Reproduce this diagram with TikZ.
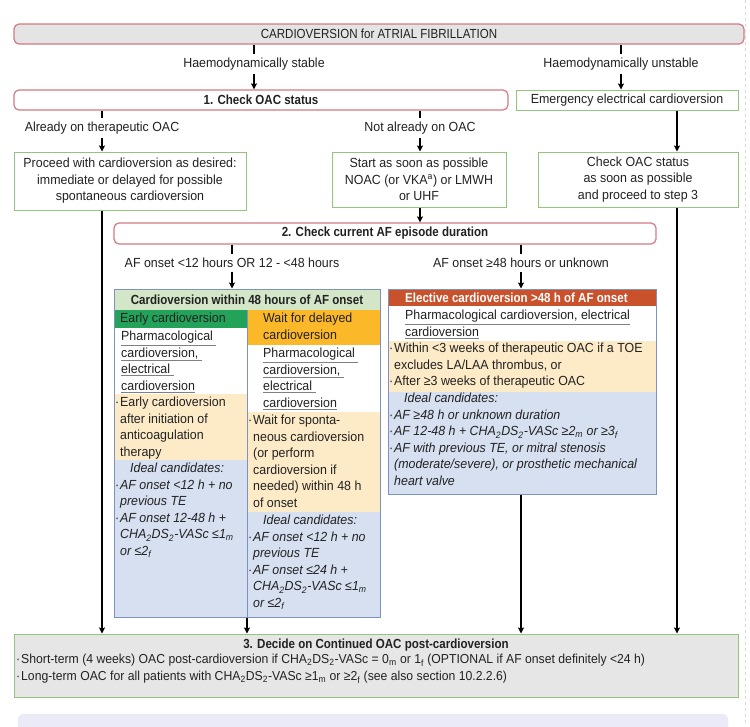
\documentclass[tikz,border=0pt]{standalone}
\usepackage{fontspec}
\setmainfont[FakeStretch=0.94]{Liberation Sans}
\newfontfamily\cond[FakeStretch=0.875]{Liberation Sans}
\usetikzlibrary{arrows.meta,positioning}
\definecolor{ink}{HTML}{222222}
\definecolor{redline}{HTML}{D27A82}
\definecolor{greenline}{HTML}{95C47F}
\definecolor{grpline}{HTML}{7D92BF}
\definecolor{titlegray}{HTML}{E4E4E4}
\definecolor{hdgreen}{HTML}{D3E6C8}
\definecolor{earlygreen}{HTML}{23A35A}
\definecolor{waitorange}{HTML}{FBB829}
\definecolor{lightorange}{HTML}{FDEBC8}
\definecolor{lightblue}{HTML}{D6E0F0}
\definecolor{electred}{HTML}{C9522D}
\definecolor{decidegray}{HTML}{E6E6E6}
\definecolor{lavender}{HTML}{EAEAF8}
\newcommand{\basefont}{\fontsize{13.2}{16.5}\selectfont}
\newcommand{\bulpt}{\makebox[5pt][l]{·}}
\newcommand{\indt}{\hspace*{5pt}}
\newcommand{\undl}[1]{{\color{gray}\underline{\color{ink}#1}}}
\newcommand{\chads}{CHA\textsubscript{2}DS\textsubscript{2}-VASc}
\begin{document}
\begin{tikzpicture}[x=1pt, y=-1pt, font=\basefont,
    every node/.style={text=ink},
    red box/.style={draw=redline, line width=1.2pt, rounded corners=5pt, fill=white, inner sep=0pt},
    green box/.style={draw=greenline, line width=1pt, fill=white, align=center, inner sep=0pt},
    group box/.style={draw=grpline, line width=1pt, inner sep=0pt},
    branch/.style={inner sep=4pt},
    txt/.style={anchor=north west, inner sep=0pt, align=left},
    ital/.style={font=\basefont\itshape},
    tick/.style={line width=1.2pt},
    arr/.style={line width=1.2pt, -{Stealth[length=6pt,width=6pt,inset=1pt]}}]

    \fill[white] (0,0) rectangle (750,726);
    \useasboundingbox (0,0) rectangle (750,726);
    \draw[gray!30, dashed, line width=0.6pt] (745,0) -- (745,726);

    \node[red box, fill=titlegray, minimum width=730, minimum height=20] (title) at (379,34) {\cond CARDIOVERSION for ATRIAL FIBRILLATION};
    \node[branch] (stable) at (254,64) {Haemodynamically stable};
    \node[branch] (unstable) at (621,64) {Haemodynamically unstable};
    \node[red box, minimum width=494, minimum height=20] (check) at (261,100) {\cond\bfseries 1. Check OAC status};
    \node[green box, minimum width=222, minimum height=20] (emerg) at (627,100) {Emergency electrical cardioversion};
    \node[branch] (already) at (102,128) {Already on therapeutic OAC};
    \node[branch] (notyet) at (420,128) {Not already on OAC};
    \node[green box, minimum width=232, minimum height=58] (proceed) at (130,181) {Proceed with cardioversion as desired:\\immediate or delayed for possible\\spontaneous cardioversion};
    \node[green box, minimum width=174, minimum height=55] (start) at (419,179.5) {Start as soon as possible\\NOAC (or VKA\textsuperscript{a}) or LMWH\\or UHF};
    \node[green box, minimum width=200, minimum height=55] (checkoac) at (638,179.5) {Check OAC status\\as soon as possible\\and proceed to step 3};
    \coordinate (rail) at (677,0);
    \node[red box, minimum width=542, minimum height=21] (step2) at (385,233.5) {\cond\bfseries 2. Check current AF episode duration};
    \node[branch] (short) at (232,263) {AF onset <12 hours OR 12 - <48 hours};
    \node[branch] (long) at (521,263) {AF onset ≥48 hours or unknown};

    \fill[hdgreen] (114,289) rectangle (380,310);
    \fill[earlygreen] (114,310) rectangle (247,328);
    \fill[lightorange] (114,394) rectangle (247,460);
    \fill[lightblue] (114,460) rectangle (247,617);
    \fill[waitorange] (247,310) rectangle (380,345);
    \fill[lightorange] (247,412) rectangle (380,512);
    \fill[lightblue] (247,512) rectangle (380,617);
    \draw[grpline, line width=1pt] (247,310) -- (247,617);
    \node[group box, minimum width=266, minimum height=328] (within) at (247,453) {};
    \node[inner sep=0pt] (withinhd) at (247,299.5) {\cond\bfseries Cardioversion within 48 hours of AF onset};
    \node[anchor=west, inner sep=0pt] (earlyhd) at (120,319) {Early cardioversion};
    \node[txt] (earlymode) at (121,331) {\undl{Pharmacological\ }\\\undl{cardioversion,\ }\\\undl{electrical\ }\\\undl{cardioversion}};
    \node[txt] (earlywhen) at (115,397) {\bulpt Early cardioversion\\\indt after initiation of\\\indt anticoagulation\\\indt therapy};
    \node[txt, ital] (earlyideal) at (115,463) {\indt\indt\indt Ideal candidates:\\\bulpt AF onset <12 h + no\\\indt previous TE\\\bulpt AF onset 12-48 h +\\\indt \chads{} ≤1\textsubscript{m}\\\indt or ≤2\textsubscript{f}};
    \node[txt] (waithd) at (263,313) {Wait for delayed\\cardioversion};
    \node[txt] (waitmode) at (263,348) {\undl{Pharmacological\ }\\\undl{cardioversion,\ }\\\undl{electrical\ }\\\undl{cardioversion}};
    \node[txt] (waitwhen) at (248,415) {\bulpt Wait for sponta-\\\indt neous cardioversion\\\indt (or perform\\\indt cardioversion if\\\indt needed) within 48 h\\\indt of onset};
    \node[txt, ital] (waitideal) at (248,515) {\indt\indt\indt Ideal candidates:\\\bulpt AF onset <12 h + no\\\indt previous TE\\\bulpt AF onset ≤24 h +\\\indt \chads{} ≤1\textsubscript{m}\\\indt or ≤2\textsubscript{f}};

    \fill[electred] (388,289) rectangle (656,306);
    \fill[lightorange] (388,341) rectangle (656,392);
    \fill[lightblue] (388,392) rectangle (656,494);
    \node[group box, minimum width=268, minimum height=205] (elective) at (522,391.5) {};
    \node[anchor=west, inner sep=0pt, text=white] (electhd) at (405,297.5) {\cond\bfseries Elective cardioversion >48 h of AF onset};
    \node[txt] (electmode) at (405,310) {\undl{Pharmacological cardioversion, electrical}\\\undl{cardioversion}};
    \node[txt] (electwhen) at (389,343) {\bulpt Within <3 weeks of therapeutic OAC if a TOE\\\indt excludes LA/LAA thrombus, or\\\bulpt After ≥3 weeks of therapeutic OAC};
    \node[txt, ital] (electideal) at (389,393) {\indt\indt\indt Ideal candidates:\\\bulpt AF ≥48 h or unknown duration\\\bulpt AF 12-48 h + \chads{} ≥2\textsubscript{m} or ≥3\textsubscript{f}\\\bulpt AF with previous TE, or mitral stenosis\\\indt (moderate/severe), or prosthetic mechanical\\\indt heart valve};

    \node[draw=greenline, line width=1pt, fill=decidegray, minimum width=724, minimum height=63, inner sep=0pt] (decide) at (376,665.5) {};
    \node[inner sep=0pt] (decidehd) at (376,645) {\cond\bfseries 3. Decide on Continued OAC post-cardioversion};
    \node[txt, font=\fontsize{13}{17}\selectfont] (decidetxt) at (16,654) {\bulpt Short-term (4 weeks) OAC post-cardioversion if \chads{} = 0\textsubscript{m} or 1\textsubscript{f} (OPTIONAL if AF onset definitely <24 h)\\\bulpt Long-term OAC for all patients with \chads{} ≥1\textsubscript{m} or ≥2\textsubscript{f} (see also section 10.2.2.6)};
    \fill[lavender, draw=gray!15, rounded corners=6pt] (18,714) rectangle (728,740);

    \draw[tick] (title.south -| stable) -- (stable.north);
    \draw[arr] (stable.south) -- (stable.south |- check.north);
    \draw[tick] (title.south -| unstable) -- (unstable.north);
    \draw[arr] (unstable.south) -- (unstable.south |- emerg.north);
    \draw[tick] (check.south -| already) -- (already.north);
    \draw[arr] (already.south) -- (already.south |- proceed.north);
    \draw[tick] (check.south -| notyet) -- (notyet.north);
    \draw[arr] (notyet.south) -- (notyet.south |- start.north);
    \draw[arr] (emerg.south -| rail) -- (checkoac.north -| rail);
    \draw[arr] (start.south -| notyet) -- (step2.north -| notyet);
    \draw[arr] (proceed.south -| already) -- (decide.north -| already);
    \draw[arr] (checkoac.south -| rail) -- (decide.north -| rail);
    \draw[tick] (step2.south -| short) -- (short.north);
    \draw[arr] (short.south) -- (short.south |- within.north);
    \draw[tick] (step2.south -| long) -- (long.north);
    \draw[arr] (long.south) -- (long.south |- elective.north);
    \draw[arr] (within.south) -- (within.south |- decide.north);
    \draw[arr] (elective.south -| long) -- (decide.north -| long);
\end{tikzpicture}
\end{document}
